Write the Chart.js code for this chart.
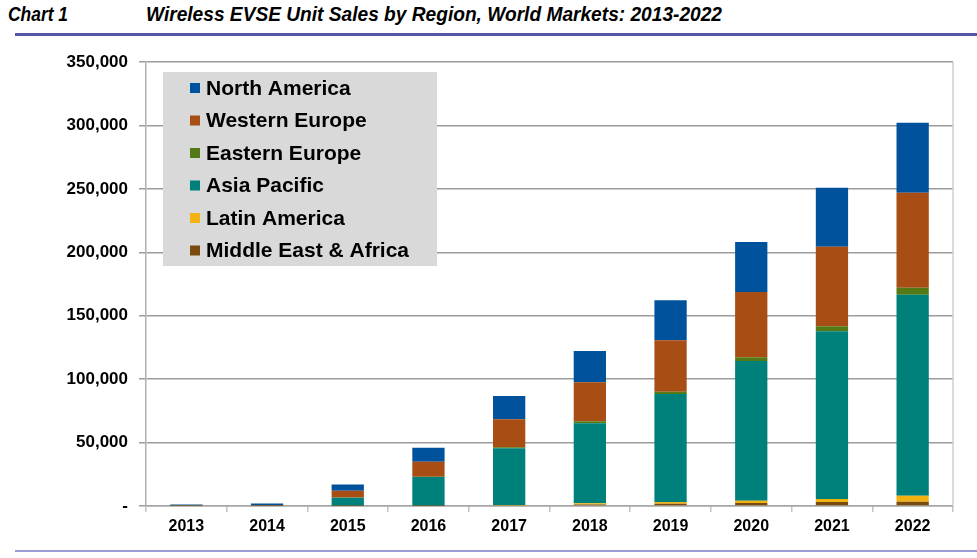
<!DOCTYPE html>
<html>
<head>
<meta charset="utf-8">
<script src="https://cdn.jsdelivr.net/npm/chart.js@4.4.1/dist/chart.umd.min.js"></script>
<style>
  html, body { margin: 0; padding: 0; background: #fff; }
  #wrap { position: relative; width: 977px; height: 558px; overflow: hidden; }
  #chart { position: absolute; left: 0; top: 0; }
  .head { position: absolute; top: 3px; font-family: "Liberation Sans", Arial, sans-serif; transform-origin: 0 0;
          font-weight: bold; font-style: italic; font-size: 20px; color: #000; white-space: nowrap; }
  .rule { position: absolute; left: 15px; right: 0; }
</style>
</head>
<body>
<div id="wrap">
  <div class="head" id="head1" data-w="60" style="left:8px">Chart 1</div>
  <div class="head" id="head2" data-w="576" style="left:146px">Wireless EVSE Unit Sales by Region, World Markets: 2013-2022</div>
  <div class="rule" style="top:33px;height:3px;background:#5656a8"></div>
  <canvas id="chart" width="977" height="558"></canvas>
  <div class="rule" style="top:550px;height:2px;background:#9a9ad4"></div>
</div>
<script>
// Unit sales per year, stacked bottom to top
const years = ['2013', '2014', '2015', '2016', '2017', '2018', '2019', '2020', '2021', '2022'];
const middleEastAfrica = [100, 100, 100, 100, 400, 1100, 1800, 2400, 3200, 3400];
const latinAmerica = [100, 100, 100, 100, 300, 1000, 1300, 1800, 2400, 4700];
const asiaPacific = [200, 200, 6300, 22600, 44800, 63100, 85100, 110100, 132100, 158400];
const easternEurope = [50, 50, 200, 300, 800, 1600, 1800, 2900, 3900, 5500];
const westernEurope = [200, 300, 5300, 11800, 22100, 30700, 40700, 51500, 62800, 74900];
const northAmerica = [600, 1300, 5000, 11000, 18400, 24700, 31500, 39400, 46500, 55200];

const yTicks = [0, 50000, 100000, 150000, 200000, 250000, 300000, 350000];

const series = [
    { label: 'Middle East & Africa', data: middleEastAfrica, color: '#7a4a0e' },
    { label: 'Latin America', data: latinAmerica, color: '#f2b312' },
    { label: 'Asia Pacific', data: asiaPacific, color: '#00807a' },
    { label: 'Eastern Europe', data: easternEurope, color: '#547a18' },
    { label: 'Western Europe', data: westernEurope, color: '#a84d14' },
    { label: 'North America', data: northAmerica, color: '#00529c' }
];

// Condensed heading: squeeze each line to its set width
document.querySelectorAll('.head').forEach(el => {
    const target = Number(el.dataset.w);
    const w = el.getBoundingClientRect().width;
    el.style.transform = `scaleX(${target / w})`;
});

// Right edge of the plot frame
const frameRight = {
    id: 'frameRight',
    beforeDatasetsDraw(chart) {
        const { ctx, chartArea } = chart;
        ctx.save();
        ctx.strokeStyle = '#cfcfcf';
        ctx.lineWidth = 1.5;
        ctx.beginPath();
        ctx.moveTo(chartArea.right, chartArea.top);
        ctx.lineTo(chartArea.right, chartArea.bottom);
        ctx.stroke();
        ctx.restore();
    }
};

// Grey legend box inside the plot, top series listed first
const boxLegend = {
    id: 'boxLegend',
    afterDraw(chart) {
        const ctx = chart.ctx;
        const x = 163, y = 72, w = 274, h = 194;
        ctx.save();
        ctx.fillStyle = '#d9d9d9';
        ctx.fillRect(x, y, w, h);
        ctx.font = 'bold 21px "Liberation Sans", Arial, sans-serif';
        ctx.textBaseline = 'middle';
        const items = chart.data.datasets.slice().reverse();
        items.forEach((ds, i) => {
            const cy = 88 + i * 32.5;
            ctx.fillStyle = ds.backgroundColor;
            ctx.fillRect(190, cy - 5, 10, 10);
            ctx.fillStyle = '#000';
            ctx.fillText(ds.label, 206, cy + 1);
        });
        ctx.restore();
    }
};

new Chart(document.getElementById('chart'), {
    type: 'bar',
    data: {
        labels: years,
        datasets: series.map(s => ({
            label: s.label,
            data: s.data,
            backgroundColor: s.color,
            borderWidth: 0,
            categoryPercentage: 1,
            barPercentage: 0.4
        }))
    },
    options: {
        responsive: false,
        animation: false,
        layout: { padding: { top: 62, right: 24, left: 0, bottom: 0 } },
        plugins: {
            legend: { display: false },
            tooltip: { enabled: false }
        },
        scales: {
            x: {
                stacked: true,
                afterFit: scale => { scale.height = 52; },
                grid: { drawOnChartArea: false, drawTicks: true, tickLength: 6, color: '#c4c4c4', lineWidth: 1.5 },
                border: { color: '#a8a8a8', width: 1.5 },
                ticks: {
                    color: '#000',
                    padding: 5,
                    font: { family: '"Liberation Sans", Arial, sans-serif', size: 16, weight: 'bold' }
                }
            },
            y: {
                stacked: true,
                min: 0,
                max: 350000,
                afterFit: scale => { scale.width = 146; },
                afterBuildTicks: scale => { scale.ticks = yTicks.map(v => ({ value: v })); },
                grid: { color: '#9c9c9c', lineWidth: 1.5, tickLength: 7 },
                border: { color: '#b0b0b0', width: 1.5 },
                ticks: {
                    color: '#000',
                    padding: 11,
                    font: { family: '"Liberation Sans", Arial, sans-serif', size: 17, weight: 'bold' },
                    callback: v => v === 0 ? '-' : v.toLocaleString('en-US')
                }
            }
        }
    },
    plugins: [frameRight, boxLegend]
});
</script>
</body>
</html>
